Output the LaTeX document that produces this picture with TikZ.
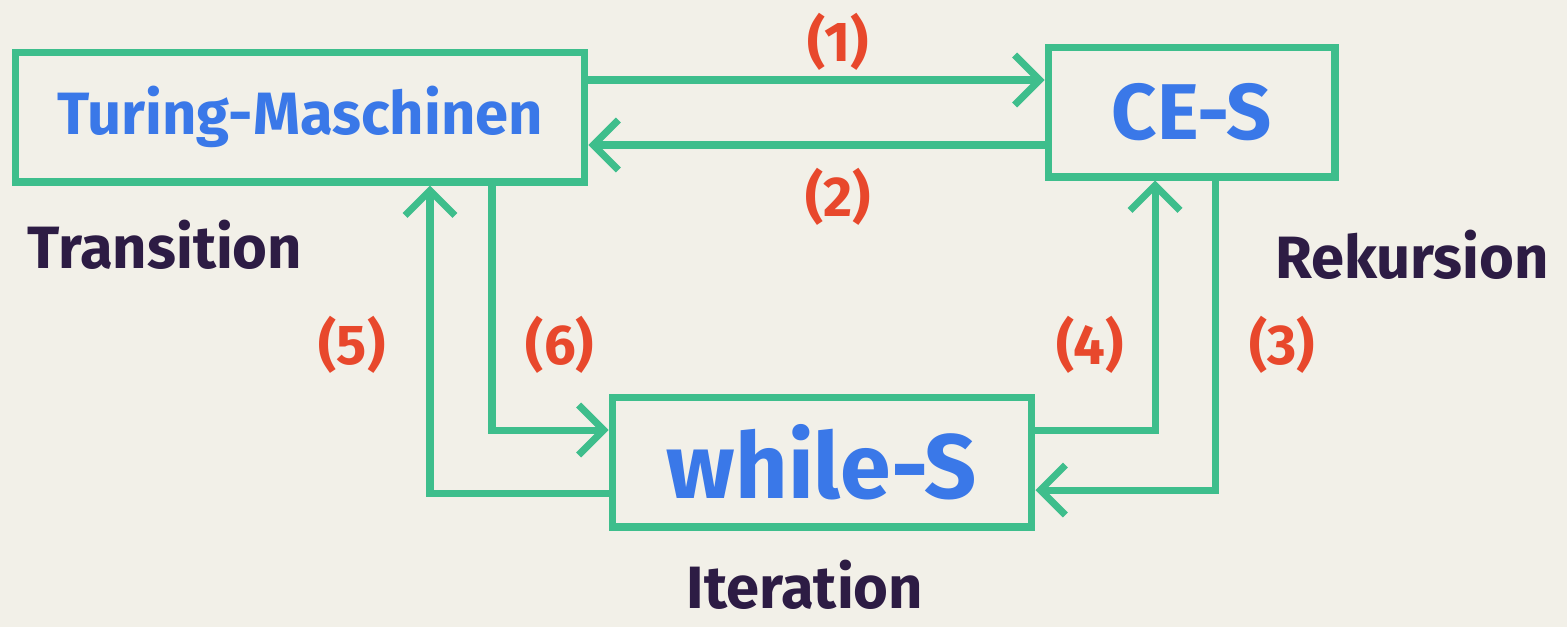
\documentclass[tikz,border=0pt]{standalone}
\usepackage{fontspec}
\setmainfont{Fira Sans}
\usetikzlibrary{arrows.meta,calc}
\definecolor{bg}{RGB}{242,240,232}
\definecolor{mgreen}{RGB}{62,190,140}
\definecolor{mblue}{RGB}{58,120,232}
\definecolor{mred}{RGB}{232,72,44}
\definecolor{mpurple}{RGB}{45,28,68}
\tikzset{
  box/.style={draw=mgreen, line width=4pt, rectangle, minimum height=2.6cm, inner sep=0pt,
    text=mblue, font=\fontsize{40}{44}\selectfont\bfseries},
  conn/.style={draw=mgreen, line width=4pt, -{Straight Barb[length=5mm,width=10mm,line width=4pt]}},
  num/.style={text=mred, font=\fontsize{32}{36}\selectfont\bfseries},
  cat/.style={text=mpurple, font=\fontsize{34}{38}\selectfont\bfseries},
}
\begin{document}
\begin{tikzpicture}[x=0.02cm,y=-0.02cm]
\fill[bg] (0,0) rectangle (1567,627);
\useasboundingbox (0,0) rectangle (1567,627);
\node[box, minimum width=11.4cm, font=\fontsize{34}{38}\selectfont\bfseries] (TM) at (300,117) {Turing-Maschinen};
\node[box, minimum width=5.74cm, font=\fontsize{45}{50}\selectfont\bfseries] (CE) at (1191.5,112) {CE-S};
\node[box, minimum width=8.4cm, font=\fontsize{52}{58}\selectfont\bfseries] (WS) at (822,462) {while-S};
% (1) and (2)
\draw[conn] (TM.east |- 0,80) -- (CE.west |- 0,80);
\draw[conn] (CE.west |- 0,145) -- (TM.east |- 0,145);
% (5) and (6)
\draw[conn] (WS.west |- 0,493) -| (TM.south -| 430,0);
\draw[conn] (TM.south -| 492,0) |- (WS.west |- 0,430);
% (4) and (3)
\draw[conn] (WS.east |- 0,430) -| (CE.south -| 1155,0);
\draw[conn] (CE.south -| 1215,0) |- (WS.east |- 0,490);
% labels
\node[num] (l1) at (838,42) {(1)};
\node[num] (l2) at (838,197) {(2)};
\node[num] (l5) at (352,345) {(5)};
\node[num] (l6) at (560,345) {(6)};
\node[num] (l4) at (1090,345) {(4)};
\node[num] (l3) at (1282,345) {(3)};
\node[cat] (tr) at (165,245) {Transition};
\node[cat] (re) at (1412,255) {Rekursion};
\node[cat] (it) at (805,585) {Iteration};
\end{tikzpicture}
\end{document}
